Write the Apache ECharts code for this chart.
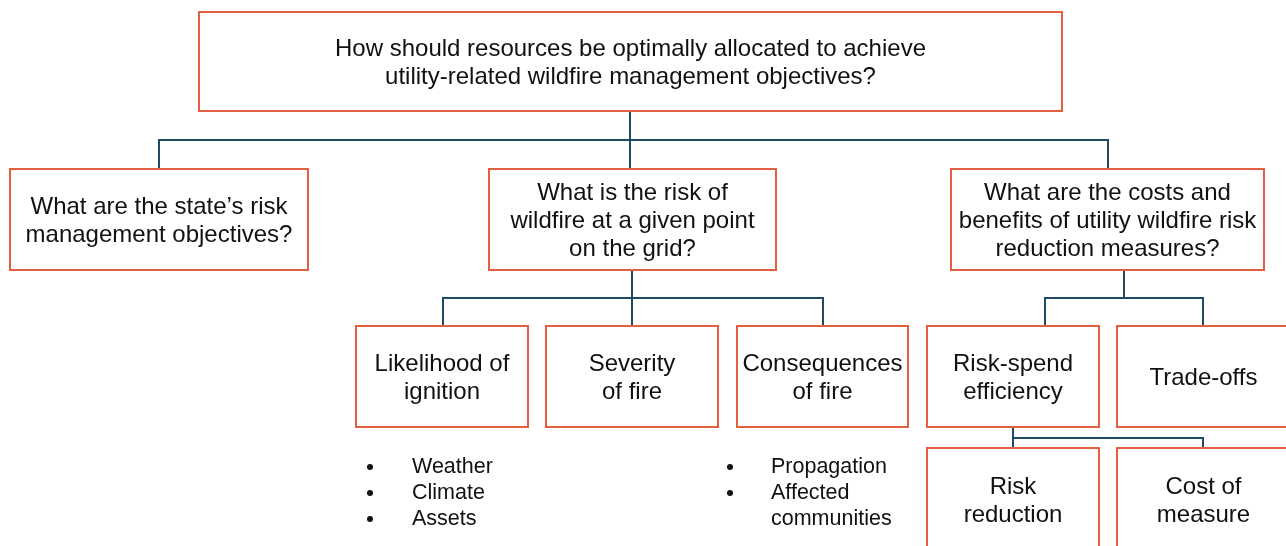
<!DOCTYPE html>
<html>
<head>
<meta charset="utf-8">
<script src="https://cdn.jsdelivr.net/npm/echarts@6/dist/echarts.min.js"></script>
<style>
html,body{margin:0;padding:0;background:#fff;}
#chart{width:1286px;height:546px;}
</style>
</head>
<body>
<div id="chart"></div>
<script>
// ---- Content (text of the diagram) ----
const nodeLabels = [
  'How should resources be optimally allocated to achieve\nutility-related wildfire management objectives?',
  'What are the state\u2019s risk\nmanagement objectives?',
  'What is the risk of\nwildfire at a given point\non the grid?',
  'What are the costs and\nbenefits of utility wildfire risk\nreduction measures?',
  'Likelihood of\nignition',
  'Severity\nof fire',
  'Consequences\nof fire',
  'Risk-spend\nefficiency',
  'Trade-offs',
  'Risk\nreduction',
  'Cost of\nmeasure'
];
const likelihoodBullets = ['Weather', 'Climate', 'Assets'];
const consequenceBullets = ['Propagation', 'Affected\ncommunities'];
// parent index -> child indices
const treeLinks = [
  [0, [1, 2, 3]],
  [2, [4, 5, 6]],
  [3, [7, 8]],
  [7, [9, 10]]
];

// ---- Layout (diagram units = pixels of a 1286x546 canvas) ----
const boxLayout = [
  [199, 12, 1062, 111],
  [10, 169, 308, 270],
  [489, 169, 776, 270],
  [951, 169, 1264, 270],
  [356, 326, 528, 427],
  [546, 326, 718, 427],
  [737, 326, 908, 427],
  [927, 326, 1099, 427],
  [1117, 326, 1290, 427],
  [927, 448, 1099, 570],
  [1117, 448, 1290, 570]
];
const linkLayout = [
  { px: 630, mid: 140, childX: [159, 630, 1108] },
  { px: 632, mid: 298, childX: [443, 632, 823] },
  { px: 1124, mid: 298, childX: [1045, 1203] },
  { px: 1013, mid: 438, childX: [1013, 1203] }
];
const bulletLayout = [
  { bx: 370, tx: 412, y0: 467, items: likelihoodBullets },
  { bx: 730, tx: 771, y0: 467, items: consequenceBullets }
];

const ORANGE = '#E2603F';
const NAVY = '#1F4A66';
const FAMILY = 'Liberation Sans';

const boxData = nodeLabels.map((t, i) => boxLayout[i].concat([t]));
const linkData = treeLinks.map((l, i) => {
  const p = boxLayout[l[0]];
  const L = linkLayout[i];
  const childTop = boxLayout[l[1][0]][1];
  return [L.px, p[3], L.mid, childTop].concat(L.childX);
});
const bulletData = [];
bulletLayout.forEach(b => {
  let line = 0;
  b.items.forEach(t => {
    bulletData.push([b.bx, b.tx, b.y0 + line * 26, t]);
    line += t.split('\n').length;
  });
});

const chart = echarts.init(document.getElementById('chart'), null, { renderer: 'canvas' });
chart.setOption({
  animation: false,
  backgroundColor: '#ffffff',
  grid: { left: 0, right: 0, top: 0, bottom: 0 },
  xAxis: { type: 'value', min: 0, max: 1286, show: false },
  yAxis: { type: 'value', min: 0, max: 546, inverse: true, show: false },
  series: [
    {
      type: 'custom',
      name: 'links',
      data: linkData,
      renderItem: function (params, api) {
        const px = api.value(0), py = api.value(1), mid = api.value(2), cy = api.value(3);
        const xs = [];
        for (let k = 4; k < 8; k++) {
          const v = api.value(k);
          if (v != null && !isNaN(v)) xs.push(v);
        }
        const st = { stroke: NAVY, lineWidth: 2, fill: null };
        const children = [];
        const a = api.coord([px, py]), b = api.coord([px, mid]);
        children.push({ type: 'line', shape: { x1: a[0], y1: a[1], x2: b[0], y2: b[1] }, style: st });
        const l = api.coord([Math.min.apply(null, xs), mid]), r = api.coord([Math.max.apply(null, xs), mid]);
        children.push({ type: 'line', shape: { x1: l[0] - 1, y1: l[1], x2: r[0] + 1, y2: r[1] }, style: st });
        xs.forEach(x => {
          const c1 = api.coord([x, mid]), c2 = api.coord([x, cy]);
          children.push({ type: 'line', shape: { x1: c1[0], y1: c1[1], x2: c2[0], y2: c2[1] }, style: st });
        });
        return { type: 'group', children: children };
      },
      z: 1
    },
    {
      type: 'custom',
      name: 'boxes',
      data: boxData,
      renderItem: function (params, api) {
        const p0 = api.coord([api.value(0), api.value(1)]);
        const p1 = api.coord([api.value(2), api.value(3)]);
        const text = boxData[params.dataIndex][4];
        return {
          type: 'group',
          children: [
            {
              type: 'rect',
              shape: { x: p0[0], y: p0[1], width: p1[0] - p0[0], height: p1[1] - p0[1] },
              style: { fill: '#ffffff', stroke: ORANGE, lineWidth: 2 }
            },
            {
              type: 'text',
              x: (p0[0] + p1[0]) / 2,
              y: p1[1] > 546 ? (p0[1] + 53) : (p0[1] + p1[1]) / 2 + 1.5,
              style: {
                text: text,
                fill: '#111111',
                fontFamily: FAMILY,
                fontSize: 24,
                lineHeight: 28,
                align: 'center',
                verticalAlign: 'middle'
              }
            }
          ]
        };
      },
      z: 2
    },
    {
      type: 'custom',
      name: 'bullets',
      data: bulletData,
      renderItem: function (params, api) {
        const b = api.coord([api.value(0), api.value(2)]);
        const t = api.coord([api.value(1), api.value(2)]);
        const text = bulletData[params.dataIndex][3];
        return {
          type: 'group',
          children: [
            { type: 'circle', shape: { cx: b[0], cy: b[1], r: 3 }, style: { fill: '#111111' } },
            {
              type: 'text', x: t[0], y: t[1] - 13,
              style: { text: text, fill: '#111111', fontFamily: FAMILY, fontSize: 21.5, lineHeight: 26, align: 'left', verticalAlign: 'top' }
            }
          ]
        };
      },
      z: 3
    }
  ]
});
</script>
</body>
</html>
